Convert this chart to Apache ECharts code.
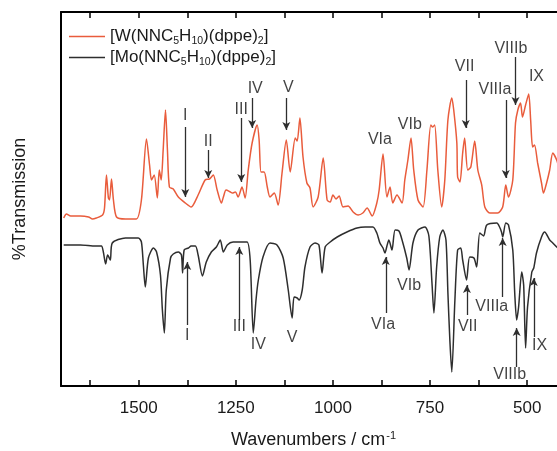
<!DOCTYPE html>
<html>
<head>
<meta charset="utf-8">
<script src="https://cdn.jsdelivr.net/npm/echarts@6.0.0/dist/echarts.min.js"></script>
<style>
  html, body { margin: 0; padding: 0; background: #fff; }
  #chart { width: 557px; height: 451px; }
</style>
</head>
<body>
<div id="chart"></div>
<script>
// IR spectra of the two bis(dppe) hydrazido complexes, offset vertically.
// x: wavenumber (cm^-1), y: offset transmission (arbitrary units).

const seriesNames = ['[W(NNC5H10)(dppe)2]', '[Mo(NNC5H10)(dppe)2]'];

const wSpectrum = [
  [1693,168],[1686,172],[1675,170],[1650,170],[1629,169],[1619,167],[1609,168],[1593,171],
  [1588,178],[1583,211],[1578,188],[1575,186],[1570,207],[1565,186],[1557,169],[1534,167],
  [1506,167],[1493,186],[1480,247],[1472,221],[1467,206],[1460,211],[1452,188],[1447,216],
  [1442,206],[1437,236],[1431,276],[1426,236],[1421,199],[1411,197],[1398,189],[1380,183],
  [1365,179],[1347,191],[1329,206],[1318,207],[1308,211],[1298,196],[1287,183],[1282,189],
  [1275,196],[1264,194],[1259,193],[1251,194],[1244,189],[1234,199],[1226,188],[1218,216],
  [1208,243],[1195,261],[1190,246],[1185,214],[1177,214],[1169,199],[1162,189],[1151,193],
  [1141,181],[1131,213],[1120,246],[1110,214],[1097,248],[1092,245],[1085,268],[1077,229],
  [1067,203],[1059,198],[1051,179],[1038,189],[1025,228],[1015,186],[1007,184],[1000,191],
  [992,187],[984,190],[974,179],[961,180],[948,174],[935,171],[923,173],[912,178],
  [899,170],[887,183],[881,196],[871,232],[861,189],[853,199],[846,183],[835,191],
  [822,183],[815,206],[807,226],[799,248],[792,216],[781,186],[768,179],[758,216],
  [748,261],[743,259],[738,261],[730,216],[720,179],[712,206],[704,266],[694,288],
  [689,276],[681,243],[679,209],[673,204],[666,233],[661,248],[653,216],[645,219],
  [635,245],[627,216],[617,201],[609,179],[596,173],[576,173],[563,179],[555,201],
  [548,189],[537,206],[530,263],[524,276],[517,283],[512,269],[504,281],[496,292],
  [491,266],[486,239],[481,241],[473,223],[463,203],[458,193],[450,203],[442,216],
  [434,233],[424,226],[416,215]
];

const moSpectrum = [
  [1693,141],[1650,141],[1611,140],[1596,140],[1591,134],[1585,122],[1580,131],[1573,126],
  [1568,143],[1534,148],[1501,148],[1493,144],[1488,121],[1483,99],[1475,128],[1462,138],
  [1454,134],[1444,111],[1439,76],[1434,53],[1429,96],[1418,128],[1411,132],[1398,134],
  [1390,131],[1387,113],[1383,136],[1372,138],[1365,140],[1354,140],[1347,131],[1336,110],
  [1326,124],[1313,134],[1300,139],[1290,146],[1282,134],[1272,141],[1257,144],[1239,144],
  [1221,144],[1213,126],[1205,53],[1198,86],[1192,106],[1180,129],[1162,143],[1144,141],
  [1128,128],[1115,96],[1105,68],[1100,89],[1092,88],[1087,86],[1079,96],[1072,119],
  [1059,139],[1046,143],[1036,141],[1028,113],[1020,139],[1007,144],[989,149],[964,154],
  [938,158],[917,159],[897,159],[887,153],[879,143],[871,138],[866,133],[861,140],
  [856,146],[848,136],[840,156],[830,155],[822,146],[810,128],[804,116],[794,143],
  [781,156],[763,159],[753,150],[745,103],[740,73],[733,119],[725,149],[717,156],
  [709,146],[704,93],[699,46],[694,14],[686,86],[679,136],[671,138],[666,126],
  [656,106],[648,129],[637,128],[630,119],[622,153],[612,150],[604,161],[578,163],
  [571,159],[566,154],[563,149],[555,163],[548,161],[537,136],[532,93],[527,66],
  [522,79],[514,114],[509,101],[504,38],[499,79],[488,114],[483,118],[476,133],
  [463,149],[455,154],[442,146],[434,143],[424,139],[416,136]
];

// Band assignments: arrows as [wavenumber, from, to]
const wArrows = [
  [1380,259,189],[1321,236,208],[1236,268,204],[1208,288,258],[1120,288,256],
  [658,306,258],[555,286,208],[530,329,281]
];
const moArrows = [
  [1375,61,124],[1241,66,139],[864,73,129],[655,71,101],[563,89,148],[527,19,58],[483,49,108]
];

// Band labels: [wavenumber, y, text]
const wLabels = [
  [1380,270,'I'],[1321,244,'II'],[1236,276,'III'],[1200,297,'IV'],[1115,298,'V'],
  [879,246,'VIa'],[802,261,'VIb'],[661,319,'VII'],[583,296,'VIIIa'],[542,337,'VIIIb'],
  [476,309,'IX']
];
const moLabels = [
  [1375,50,'I'],[1241,59,'III'],[1192,41,'IV'],[1105,48,'V'],[871,61,'VIa'],
  [804,100,'VIb'],[653,59,'VII'],[591,79,'VIIIa'],[545,11,'VIIIb'],[468,40,'IX']
];

const tickValues = [1625, 1500, 1375, 1250, 1125, 1000, 875, 750, 625, 500];
const labelValues = [1500, 1250, 1000, 750, 500];

const RED = '#e95c3c';
const DARK = '#2e2e2e';
const FONT = 'Liberation Sans, Arial, sans-serif';

function arrowLines(list) {
  return list.map(a => [{ coord: [a[0], a[1]] }, { coord: [a[0], a[2]] }]);
}

const chart = echarts.init(document.getElementById('chart'), null, { renderer: 'canvas' });

const xCommon = {
  type: 'value', min: 400, max: 1700, inverse: true,
  splitLine: { show: false },
  axisLine: { show: true, onZero: false, lineStyle: { color: '#000', width: 2 } },
  axisTick: { show: true, inside: true, length: 6, customValues: tickValues,
    lineStyle: { color: '#000', width: 1.5 } }
};

chart.setOption({
  animation: false,
  backgroundColor: '#fff',
  textStyle: { fontFamily: FONT },
  grid: { left: 61, top: 12, width: 505, height: 374, containLabel: false, outerBoundsMode: 'none' },
  legend: {
    data: seriesNames,
    orient: 'vertical', left: 64, top: 23, itemGap: 2,
    icon: 'rect', itemWidth: 36, itemHeight: 1.5,
    formatter: n => n.replace(/\(NNC5H10\)/, '(NNC{s|5}H{s|10})').replace(/\)2\]$/, '){s|2}]'),
    textStyle: {
      fontFamily: FONT, fontSize: 17, color: '#1a1a1a', padding: [0, 0, 0, 0],
      rich: { s: { fontSize: 10.5, fontFamily: FONT, color: '#1a1a1a', verticalAlign: 'bottom', padding: [10, 0, 0, 0] } }
    }
  },
  xAxis: [
    Object.assign({}, xCommon, {
      position: 'bottom',
      name: 'Wavenumbers / cm{sup|-1}', nameLocation: 'middle', nameGap: 44,
      nameTextStyle: { fontFamily: FONT, fontSize: 18, color: '#1a1a1a',
        rich: { sup: { fontSize: 11, fontFamily: FONT, color: '#1a1a1a', verticalAlign: 'top', padding: [0, 0, 10, 1] } } },
      axisLabel: { show: true, customValues: labelValues, margin: 14, formatter: v => String(v),
        fontFamily: FONT, fontSize: 17, color: '#1a1a1a' }
    }),
    Object.assign({}, xCommon, { position: 'top', axisLabel: { show: false } })
  ],
  yAxis: {
    type: 'value', min: 0, max: 374,
    name: '%Transmission', nameLocation: 'middle', nameGap: 32, nameRotate: 90,
    nameTextStyle: { fontFamily: FONT, fontSize: 18, color: '#1a1a1a' },
    axisLine: { show: true, lineStyle: { color: '#000', width: 2 } },
    axisTick: { show: false }, axisLabel: { show: false }, splitLine: { show: false }
  },
  series: [
    {
      name: seriesNames[0], type: 'line', data: wSpectrum, showSymbol: false, symbol: 'none',
      color: RED, lineStyle: { color: RED, width: 1.5 }, smooth: 0.25, z: 3,
      markLine: {
        silent: true, symbol: ['none', 'arrow'], symbolSize: [6, 8],
        lineStyle: { color: DARK, width: 1.3, type: 'solid' }, label: { show: false },
        data: arrowLines(wArrows)
      }
    },
    {
      name: seriesNames[1], type: 'line', data: moSpectrum, showSymbol: false, symbol: 'none',
      color: DARK, lineStyle: { color: DARK, width: 1.5 }, smooth: 0.25, z: 3,
      markLine: {
        silent: true, symbol: ['none', 'arrow'], symbolSize: [6, 8],
        lineStyle: { color: DARK, width: 1.3, type: 'solid' }, label: { show: false },
        data: arrowLines(moArrows)
      }
    },
    {
      name: 'bands', type: 'scatter', symbolSize: 0, silent: true, clip: false, z: 5,
      data: wLabels.concat(moLabels),
      label: { show: true, position: 'inside', formatter: p => p.value[2],
        fontFamily: FONT, fontSize: 16, color: '#111' }
    }
  ]
});
</script>
</body>
</html>
